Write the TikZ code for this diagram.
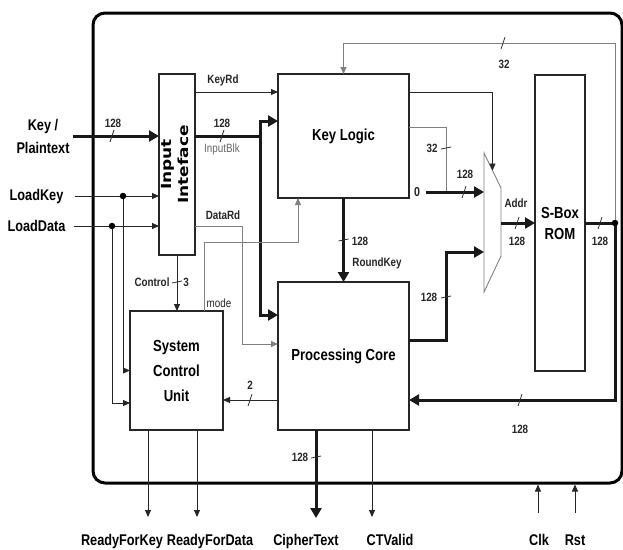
\documentclass[tikz,border=0pt]{standalone}
\usepackage{fontspec}
\usepackage{graphicx}
\setmainfont{Liberation Sans}[FakeStretch=0.82]
\newfontfamily\rotfont{DejaVu Sans}
\usetikzlibrary{arrows.meta,calc}

\tikzset{
  blk/.style={draw=black!85, line width=1.8pt, inner sep=0pt, outer sep=0pt, align=center,
    font=\bfseries\fontsize{16}{25}\selectfont},
  sig/.style={draw=black!85, line width=0.9pt, -{Triangle[length=7pt,width=6pt]}},
  gsig/.style={sig, draw=black!50},
  wire/.style={draw=black!85, line width=0.9pt},
  gwire/.style={draw=black!50, line width=0.9pt},
  bus/.style={draw=black!90, line width=3pt, -{Triangle[length=10pt,width=11pt]}},
  bwire/.style={draw=black!90, line width=3pt},
  tk/.style={draw=black!80, line width=0.8pt},
  lbl/.style={inner sep=0pt, text=black!85, font=\bfseries\fontsize{12}{14}\selectfont},
  io/.style={inner sep=0pt, align=center, font=\bfseries\fontsize{15.5}{23}\selectfont},
  dot/.style={circle, fill=black, inner sep=0pt, minimum size=6.5pt},
}

\begin{document}
\begin{tikzpicture}[x=1pt, y=-1pt]
\useasboundingbox (0,0) rectangle (623,549);

% chip boundary
\node[draw=black, line width=3pt, rounded corners=12pt, inner sep=0pt, outer sep=0pt,
  minimum width=529pt, minimum height=470pt] (chip) at (357.5,248) {};

% blocks
\node[blk, minimum width=36pt, minimum height=181pt] (ii) at (177,164.5)
  {\rotatebox{90}{\scalebox{1}[0.82]{\rotfont\bfseries\fontsize{17}{20.5}\selectfont
   \begin{tabular}{@{}c@{}}Input\\Inteface\end{tabular}}}};
\node[blk, minimum width=131pt, minimum height=124pt] (kl) at (343.5,136) {Key Logic};
\node[blk, minimum width=131pt, minimum height=148pt] (pc) at (343.5,356) {Processing Core};
\node[blk, minimum width=93pt, minimum height=119pt] (scu) at (176.5,370.5) {System\\Control\\Unit};
\node[blk, minimum width=50pt, minimum height=296pt, font=\bfseries\fontsize{16}{21}\selectfont]
  (sb) at (560,223) {S-Box\\ROM};

% mux
\coordinate (m1) at (484,153);
\coordinate (m2) at (501,188);
\coordinate (m3) at (501,256);
\coordinate (m4) at (484,292);
\draw[gwire] (m1) -- (m2) -- (m3) -- (m4) -- cycle;

% inputs
\node[io] (kp) at (43,136) {Key /\\Plaintext};
\node[io] (lk) at (36.5,196) {LoadKey};
\node[io] (ld) at (36.5,226) {LoadData};
\coordinate (dk) at (123,196);
\coordinate (dd) at (112,226);

\draw[bus] ([xshift=3pt]kp.east) -- (kp.east -| ii.west);
\draw[tk] (112,136) ++(-2,6) -- ++(4,-12);
\node[lbl] (kpw) at (113,123) {128};
\draw[sig] ([xshift=11pt]lk.east) -- (lk.east -| ii.west);
\draw[sig] ([xshift=8pt]ld.east) -- (ld.east -| ii.west);
\draw[sig] (dk) |- (scu.west);
\draw[sig] (dd) |- ($(scu.west)+(0,32.5)$);

% input interface outputs
\draw[sig] ($(ii.north east)+(0,18)$) -- ($(kl.north west)+(0,18)$);
\node[lbl] (keyrd) at (223,80) {KeyRd};

\coordinate (ib) at (260,136);
\draw[bus] (ii.east |- kp.east) -- (ib) |- ($(kl.north west)+(0,47)$);
\draw[bus] (ib) |- ($(pc.north west)+(0,33)$);
\draw[tk] (222,136) ++(-2,6) -- ++(4,-12);
\node[lbl] (ibw) at (222,123) {128};
\node[lbl, font=\fontsize{12}{14}\selectfont, text=black!60] (ibl) at (222,149) {InputBlk};

\coordinate (dr) at (242,344);
\draw[gsig] ($(ii.north east)+(0,152)$) -| (dr) -- (dr -| pc.west);
\node[lbl] (datard) at (223,215) {DataRd};

\draw[sig] (ii.south) -- (ii.south |- scu.north);
\draw[tk] (177,282) ++(-5,1) -- ++(10,-2);
\node[lbl] (ctl) at (152,282) {Control};
\node[lbl] (c3) at (186,282) {3};

% mode
\coordinate (md) at (298,242);
\draw[gsig] ($(scu.north east)+(-19,0)$) |- (md) -- (md |- kl.south);
\node[lbl, font=\fontsize{12}{14}\selectfont] (model) at (219,303) {mode};

% status to control unit
\draw[sig] ($(pc.south west)+(0,-30)$) -- ($(scu.south east)+(0,-30)$);
\draw[tk] (250,400) ++(-2,6) -- ++(4,-12);
\node[lbl] (w2) at (250,385) {2};

% round key
\draw[bus] (kl.south) -- (pc.north);
\draw[tk] (343.5,240) ++(-5,1) -- ++(10,-2);
\node[lbl] (rkw) at (360,241) {128};
\node[lbl] (rk) at (377,263) {RoundKey};

% s-box output and feedback
\coordinate (so) at (615,223);
\coordinate (fb) at (343.5,43);
\draw[gsig] (so) |- (fb) -- (kl.north);
\draw[tk] (503,43) ++(-2,6) -- ++(4,-12);
\node[lbl] (fbw) at (504,64) {32};

% key logic to mux
\coordinate (mt) at ($(m1)!0.5!(m2)$);
\draw[sig] ($(kl.north east)+(0,18)$) -| (mt);

\coordinate (zj) at (446,192);
\draw[gwire] ($(kl.north east)+(0,53)$) -| (zj);
\draw[tk] (446,148) ++(-5,1) -- ++(10,-2);
\node[lbl] (k32) at (432,148) {32};

\node[lbl, font=\bfseries\fontsize{13}{14}\selectfont] (zero) at (417,192) {0};
\draw[bus] ([xshift=6pt]zero.east) -- (zero.east -| m1);
\draw[tk] (464,192) ++(-2,6) -- ++(4,-12);
\node[lbl] (zw) at (465,174) {128};

\coordinate (mj) at (446,252);
\draw[bus] ($(pc.north east)+(0,58)$) -| (mj) -- (mj -| m1);
\draw[tk] (446,297) ++(-5,1) -- ++(10,-2);
\node[lbl] (mjw) at (429,297) {128};

% address
\draw[bus] (sb.west -| m2) -- (sb.west);
\draw[tk] (517,223) ++(-2,6) -- ++(4,-12);
\node[lbl] (addr) at (516,203) {Addr};
\node[lbl] (addrw) at (517,241) {128};

\draw[bwire] (sb.east) -- (so);
\draw[tk] (600,223) ++(-2,6) -- ++(4,-12);
\node[lbl] (sow) at (600,241) {128};
\draw[bus] (so) |- ($(pc.south east)+(0,-30)$);
\draw[tk] (520,400) ++(-2,6) -- ++(4,-12);
\node[lbl] (sbw) at (520,429) {128};

% junction dots
\node[dot] (dkd) at (dk) {};
\node[dot] (ddd) at (dd) {};
\node[dot] (sod) at (so) {};

% outputs
\coordinate (rkin) at (148,517);
\coordinate (rdin) at (197,517);
\coordinate (ctin) at (316,518);
\coordinate (cvin) at (372,517);
\draw[sig] (scu.south -| rkin) -- (rkin);
\draw[sig] (scu.south -| rdin) -- (rdin);
\draw[bus] (pc.south -| ctin) -- (ctin);
\draw[tk] (316,457) ++(-5,1) -- ++(10,-2);
\node[lbl] (ctw) at (300,457) {128};
\draw[sig] (pc.south -| cvin) -- (cvin);

\coordinate (clkin) at (538,513);
\coordinate (rstin) at (575,513);
\draw[sig, shorten >=1.5pt] (clkin) -- (clkin |- chip.south);
\draw[sig, shorten >=1.5pt] (rstin) -- (rstin |- chip.south);

\node[io, anchor=base] (rfk) at (122,545) {ReadyForKey};
\node[io, anchor=base] (rfd) at (210,545) {ReadyForData};
\node[io, anchor=base] (ctx) at (306,545) {CipherText};
\node[io, anchor=base] (ctv) at (390,545) {CTValid};
\node[io, anchor=base] (clk) at (539,545) {Clk};
\node[io, anchor=base] (rst) at (575,545) {Rst};
\end{tikzpicture}
\end{document}
